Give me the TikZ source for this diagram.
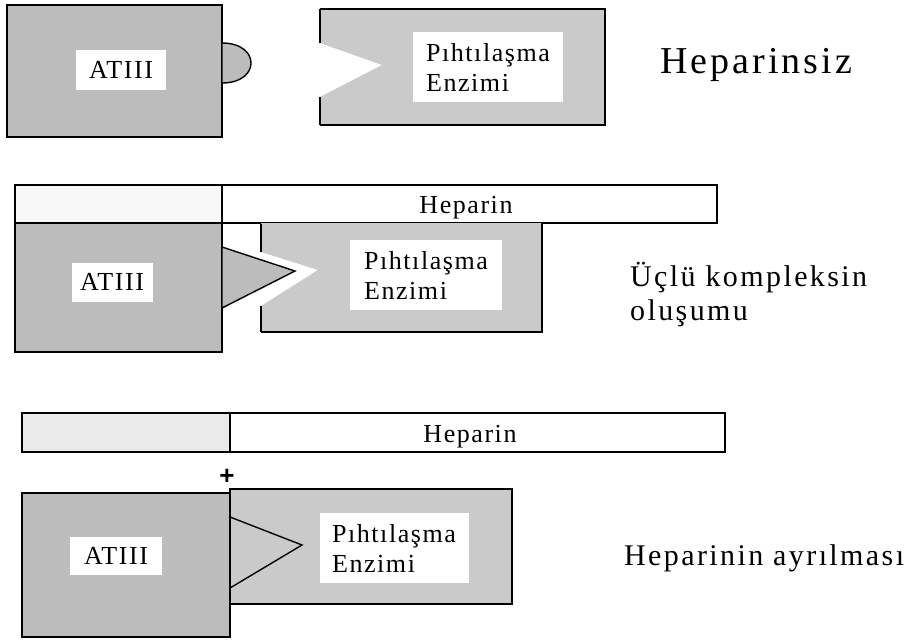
\documentclass[tikz,border=0pt]{standalone}
\usepackage{fontspec}
\setmainfont{Liberation Serif}
\newfontfamily\spacedfont[LetterSpace=6]{Liberation Serif}
\newfontfamily\widefont[LetterSpace=8]{Liberation Serif}
\newfontfamily\plusfont{Liberation Sans}
\usepackage{tikz}
\usetikzlibrary{positioning}
\definecolor{atGrey}{RGB}{188,188,188}
\definecolor{enzGrey}{RGB}{202,202,202}
\definecolor{barGrey}{RGB}{234,234,234}
\definecolor{barWhite}{RGB}{248,248,248}
\tikzstyle{atBox} = [fill=atGrey, draw=black, line width=1.4pt, line join=miter]
\tikzstyle{enzFill} = [fill=enzGrey]
\tikzstyle{enzEdge} = [draw=black, line width=1.4pt]
\tikzstyle{leftEdge} = [draw=black, line width=2.4pt]
\tikzstyle{barBox} = [draw=black, line width=1.2pt]
\tikzstyle{whiteLabel} = [fill=white, inner sep=0pt, align=left, font=\spacedfont\fontsize{26}{30}\selectfont]
\tikzstyle{barText} = [inner sep=0pt, anchor=base, font=\spacedfont\fontsize{26}{30}\selectfont]
\tikzstyle{titleText} = [inner sep=0pt, anchor=base west, font=\widefont\fontsize{38}{42}\selectfont]
\tikzstyle{subText} = [inner sep=0pt, anchor=base west, font=\widefont\fontsize{30}{34}\selectfont]

\begin{document}
\begin{tikzpicture}[x=1pt,y=-1pt]
		\useasboundingbox (0,0) rectangle (915,640);
		
		% 1. Heparinsiz
		\draw[atBox] (7,5) rectangle (222,137);											% ATIII
		\draw[atBox] (222,43) .. controls (260.7,43) and (260.7,83) .. (222,83) -- cycle;	% Nase
		\fill[enzFill] (320,9) -- (605,9) -- (605,125) -- (320,125) -- (320,97) -- (382,65) -- (320,43) -- cycle; % Enzym mit Kerbe
		\draw[enzEdge] (320,9) -- (605,9) -- (605,125) -- (320,125);
		\draw[leftEdge] (320,9) -- (320,43) (320,97) -- (320,125);
		\node[whiteLabel, minimum width=90pt, minimum height=40pt] (at1) at (121,70) {ATIII};
		\node[whiteLabel, minimum width=150pt, minimum height=70pt] (enz1) at (488,67) {Pıhtılaşma\\Enzimi};
		\node[titleText] (heparinsiz) at (660,73) {Heparinsiz};
		
		% 2. Komplex
		\fill[barWhite] (15,185) rectangle (222,223);
		\draw[barBox] (15,185) rectangle (717,223);										% Heparin
		\draw[barBox] (222,185) -- (222,223);
		\node[barText] (hep2) at (466,213) {Heparin};
		\draw[atBox] (15,223) rectangle (222,352);										% ATIII
		\fill[enzFill] (261,223) -- (542,223) -- (542,332) -- (261,332) -- (261,306) -- (318,270) -- (261,252) -- cycle;
		\draw[enzEdge] (261,332) -- (542,332) -- (542,223);
		\draw[leftEdge] (261,224) -- (261,252) (261,306) -- (261,332);
		\draw[atBox] (222,247) -- (295,271) -- (222,308) -- cycle;						% Spitze in Kerbe
		\node[whiteLabel, minimum width=81pt, minimum height=39pt] (at2) at (112,282) {ATIII};
		\node[whiteLabel, minimum width=152pt, minimum height=70pt] (enz2) at (426,275) {Pıhtılaşma\\Enzimi};
		\node[subText] (komplex) at (630,286) {Üçlü kompleksin};
		\node[subText] (olusum) at ([yshift=-34pt]komplex.base west) {oluşumu};
		
		% 3. Heparin abgeloest
		\fill[barGrey] (22,413) rectangle (230,452);
		\draw[barBox] (22,413) rectangle (725,452);										% Heparin
		\draw[barBox] (230,413) -- (230,452);
		\node[barText] (hep3) at (470,442) {Heparin};
		\node[inner sep=0pt, font=\plusfont\bfseries\fontsize{26}{26}\selectfont] (plus) at (227,477) {+};
		\draw[atBox] (22,493) rectangle (230,637);										% ATIII
		\draw[enzFill, enzEdge] (230,489) rectangle (512,604);							% Enzym
		\draw[leftEdge] (230,489) -- (230,604);
		\draw[enzEdge] (230,517) -- (302,545) -- (230,588);
		\node[whiteLabel, minimum width=92pt, minimum height=38pt] (at3) at (116,556) {ATIII};
		\node[whiteLabel, minimum width=149pt, minimum height=70pt] (enz3) at (394,548) {Pıhtılaşma\\Enzimi};
		\node[subText] (ayril) at (624,565) {Heparinin ayrılması};
\end{tikzpicture}
\end{document}
